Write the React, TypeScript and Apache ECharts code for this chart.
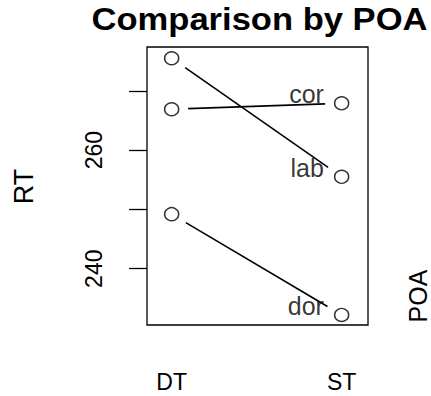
import React, { useEffect, useRef } from "react";
import * as echarts from "echarts";

// Trace levels along the x axis (plotted at positions 1 and 2)
const traceLevels = ["DT", "ST"];
// POA groups and their mean RT at DT / ST
const poaNames = ["cor", "dor", "lab"];
const corRT = [266.9, 267.9];
const dorRT = [249.2, 232.2];
const labRT = [275.5, 255.5];
// Tick marks and labelled ticks on the RT axis
const rtTicks = [240, 250, 260, 270];
const rtTickLabels = [240, 260];

const FONT = "'Liberation Sans', Arial, Helvetica, sans-serif";

export default function App() {
  const ref = useRef<HTMLDivElement>(null);

  useEffect(() => {
    if (!ref.current) return;
    const chart = echarts.init(ref.current, undefined, { renderer: "svg" });

    const groups = [corRT, dorRT, labRT];
    const segData = groups.map((g) => [1, g[0], 2, g[1]]);
    const pointData: any[] = [];
    groups.forEach((g, gi) => {
      g.forEach((v, li) => {
        pointData.push({
          value: [li + 1, v],
          label: {
            show: li === traceLevels.length - 1,
            formatter: poaNames[gi],
          },
        });
      });
    });

    // gap left between each marker and its connecting segment
    const gap = 16.5;

    chart.setOption({
      animation: false,
      backgroundColor: "#ffffff",
      textStyle: { fontFamily: FONT, color: "#000" },
      grid: {
        left: 147,
        top: 47,
        right: 63,
        bottom: 71,
        show: true,
        borderColor: "#000",
        borderWidth: 1.3,
        backgroundColor: "transparent",
      },
      xAxis: {
        type: "value",
        min: 0.855,
        max: 2.155,
        axisLine: { show: false },
        axisTick: { show: false },
        splitLine: { show: false },
        axisLabel: {
          customValues: [1, 2],
          formatter: (v: number) => traceLevels[Math.round(v) - 1] ?? "",
          fontSize: 23,
          color: "#000",
          fontFamily: FONT,
          margin: 45,
        },
      },
      yAxis: {
        type: "value",
        min: 230.5,
        max: 277.4,
        axisLine: { show: false },
        splitLine: { show: false },
        axisTick: {
          show: true,
          length: 18,
          customValues: rtTicks,
          lineStyle: { color: "#000", width: 1.3 },
        },
        axisLabel: {
          customValues: rtTickLabels,
          rotate: 90,
          fontSize: 23,
          color: "#000",
          fontFamily: FONT,
          margin: 42,
        },
      },
      graphic: [
        {
          type: "text",
          x: 259.5,
          y: 18.5,
          scaleX: 1.08,
          style: {
            text: "Comparison by POA",
            fontSize: 32,
            fontWeight: "bold",
            fontFamily: FONT,
            fill: "#000",
            textAlign: "center",
            textVerticalAlign: "middle",
          },
        },
        {
          type: "text",
          x: 24,
          y: 186.5,
          rotation: Math.PI / 2,
          style: {
            text: "RT",
            fontSize: 27,
            fontFamily: FONT,
            fill: "#000",
            textAlign: "center",
            textVerticalAlign: "middle",
          },
        },
        {
          type: "text",
          x: 418,
          y: 296,
          rotation: Math.PI / 2,
          style: {
            text: "POA",
            fontSize: 25,
            fontFamily: FONT,
            fill: "#000",
            textAlign: "center",
            textVerticalAlign: "middle",
          },
        },
      ],
      series: [
        {
          type: "custom",
          data: segData,
          encode: { x: [0, 2], y: [1, 3] },
          renderItem: (params: any, api: any) => {
            const p1 = api.coord([api.value(0), api.value(1)]);
            const p2 = api.coord([api.value(2), api.value(3)]);
            const dx = p2[0] - p1[0];
            const dy = p2[1] - p1[1];
            const len = Math.sqrt(dx * dx + dy * dy) || 1;
            const ux = dx / len;
            const uy = dy / len;
            return {
              type: "line",
              shape: {
                x1: p1[0] + ux * gap,
                y1: p1[1] + uy * gap,
                x2: p2[0] - ux * gap,
                y2: p2[1] - uy * gap,
              },
              style: { stroke: "#000", lineWidth: 1.6 },
            };
          },
        },
        {
          type: "scatter",
          data: pointData,
          symbol: "circle",
          symbolSize: [14, 13],
          itemStyle: { color: "#fff", borderColor: "#000", borderWidth: 1.5 },
          label: {
            position: "left",
            distance: 10,
            offset: [0, -9],
            fontSize: 25,
            color: "#000",
            fontFamily: FONT,
          },
        },
      ],
    });

    return () => chart.dispose();
  }, []);

  return (
    <div
      ref={ref}
      style={{ position: "absolute", left: 0, top: 0, width: 431, height: 396 }}
    />
  );
}
